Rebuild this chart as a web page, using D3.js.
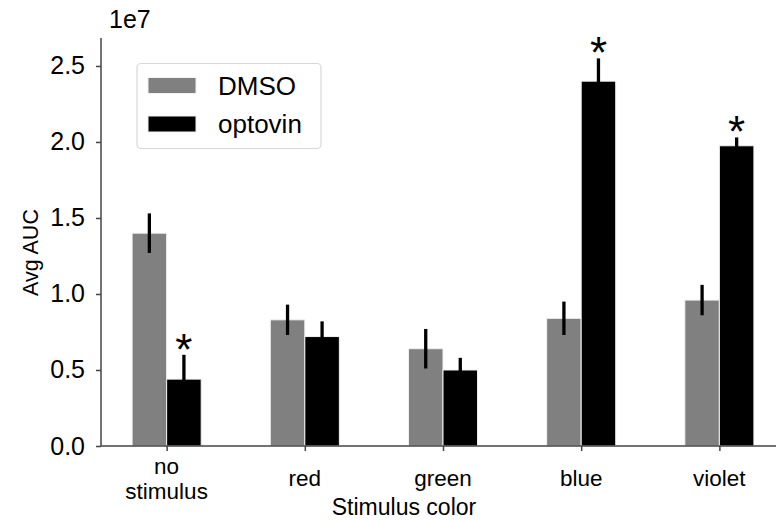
<!DOCTYPE html>
<html>
<head>
<meta charset="utf-8">
<script src="https://cdn.jsdelivr.net/npm/d3@7"></script>
<style>
  html, body { margin: 0; padding: 0; background: #fff; }
  svg { display: block; font-family: "Liberation Sans", Arial, Helvetica, sans-serif; }
</style>
</head>
<body>
<svg id="chart" width="776" height="520"></svg>
<script>
// Stimulus conditions along the x axis (multi-line labels split on \n)
const categories = ["no\nstimulus", "red", "green", "blue", "violet"];
const seriesNames = ["DMSO", "optovin"];
const seriesColors = ["#808080", "#000000"];
// Mean AUC (units of 1e7) and error half-widths
const dmsoValues = [1.40, 0.83, 0.64, 0.84, 0.96];
const dmsoErrors = [0.13, 0.10, 0.13, 0.11, 0.10];
const optovinValues = [0.44, 0.72, 0.50, 2.40, 1.975];
const optovinErrors = [0.16, 0.10, 0.08, 0.15, 0.055];
// Conditions marked as significant (optovin vs DMSO)
const significant = [true, false, false, true, true];
const yTicks = [0.0, 0.5, 1.0, 1.5, 2.0, 2.5];

const svg = d3.select("#chart");
const plotLeft = 101, plotBottom = 446, plotTop = 38, plotRight = 785;
const barW = 0.25;

// Continuous x scale so bars sit at index ± width, like an offset bar layout
const x = d3.scaleLinear().domain([-0.475, 4.475]).range([plotLeft, plotRight]);
const y = d3.scaleLinear().domain([0, 2.684]).range([plotBottom, plotTop]);

const series = [
  { name: seriesNames[0], color: seriesColors[0], values: dmsoValues, errors: dmsoErrors, offset: -barW },
  { name: seriesNames[1], color: seriesColors[1], values: optovinValues, errors: optovinErrors, offset: 0 }
];

// Bars
series.forEach(s => {
  svg.append("g").selectAll("rect")
    .data(s.values)
    .join("rect")
    .attr("x", (d, i) => x(i + s.offset))
    .attr("width", x(barW) - x(0))
    .attr("y", d => y(d))
    .attr("height", d => y(0) - y(d))
    .attr("fill", s.color)
    .attr("stroke", "#f2f2f2")
    .attr("stroke-width", 1);
});

// Error bars
series.forEach(s => {
  svg.append("g").selectAll("line")
    .data(s.values)
    .join("line")
    .attr("x1", (d, i) => x(i + s.offset + barW / 2))
    .attr("x2", (d, i) => x(i + s.offset + barW / 2))
    .attr("y1", (d, i) => y(d - s.errors[i]))
    .attr("y2", (d, i) => y(d + s.errors[i]))
    .attr("stroke", "#000")
    .attr("stroke-width", 3.3);
});

// Significance asterisks above the optovin error bars
svg.append("g").selectAll("text")
  .data(optovinValues.map((v, i) => ({ v, i, e: optovinErrors[i] })).filter(d => significant[d.i]))
  .join("text")
  .attr("x", d => x(d.i + barW / 2))
  .attr("y", d => y(d.v + d.e) + 10)
  .attr("text-anchor", "middle")
  .attr("font-size", 44)
  .attr("fill", "#000")
  .text("*");

// Y axis
const yAxis = svg.append("g")
  .attr("transform", `translate(${plotLeft},0)`)
  .call(d3.axisLeft(y).tickValues(yTicks).tickFormat(d3.format(".1f")).tickSize(5).tickPadding(11));
yAxis.select(".domain").attr("d", `M0,${plotTop}V${plotBottom}`).attr("stroke", "#444").attr("stroke-width", 1.5);
yAxis.selectAll(".tick line").attr("stroke", "#444").attr("stroke-width", 1.5);
yAxis.selectAll(".tick text").attr("font-size", 25).attr("fill", "#000")
  .attr("font-family", "Liberation Sans, Arial, sans-serif");

// X axis
const xAxis = svg.append("g")
  .attr("transform", `translate(0,${plotBottom})`)
  .call(d3.axisBottom(x).tickValues(d3.range(categories.length)).tickFormat(() => "").tickSize(5));
xAxis.select(".domain").attr("d", `M${plotLeft},0H${plotRight}`).attr("stroke", "#444").attr("stroke-width", 1.5);
xAxis.selectAll(".tick line").attr("stroke", "#444").attr("stroke-width", 1.5);

// Category labels, lines centred vertically on a common middle line
const labelMid = 486, lineGap = 25;
categories.forEach((c, i) => {
  const lines = c.split("\n");
  const t = svg.append("text")
    .attr("text-anchor", "middle")
    .attr("font-size", 22.5)
    .attr("fill", "#000");
  lines.forEach((line, k) => {
    t.append("tspan")
      .attr("x", x(i))
      .attr("y", labelMid + (k - (lines.length - 1) / 2) * lineGap)
      .text(line);
  });
});

// Axis titles
svg.append("text")
  .attr("x", 404)
  .attr("y", 515)
  .attr("text-anchor", "middle")
  .attr("font-size", 23)
  .attr("fill", "#000")
  .text("Stimulus color");

svg.append("text")
  .attr("transform", "translate(38,252.5) rotate(-90)")
  .attr("text-anchor", "middle")
  .attr("font-size", 21.5)
  .attr("fill", "#000")
  .text("Avg AUC");

// Offset/exponent label
svg.append("text")
  .attr("x", 109)
  .attr("y", 28)
  .attr("font-size", 25)
  .attr("fill", "#000")
  .text("1e7");

// Legend
const legend = svg.append("g");
legend.append("rect")
  .attr("x", 137).attr("y", 63.5)
  .attr("width", 184).attr("height", 85)
  .attr("rx", 4)
  .attr("fill", "#fff")
  .attr("stroke", "#d8d8d8")
  .attr("stroke-width", 1.2);
series.forEach((s, k) => {
  const yy = 77.5 + k * 38.5;
  legend.append("rect")
    .attr("x", 148).attr("y", yy)
    .attr("width", 48).attr("height", 16)
    .attr("fill", s.color)
    .attr("stroke", "#f2f2f2");
  legend.append("text")
    .attr("x", 218).attr("y", yy + 17)
    .attr("font-size", 26)
    .attr("fill", "#000")
    .text(s.name);
});
</script>
</body>
</html>
